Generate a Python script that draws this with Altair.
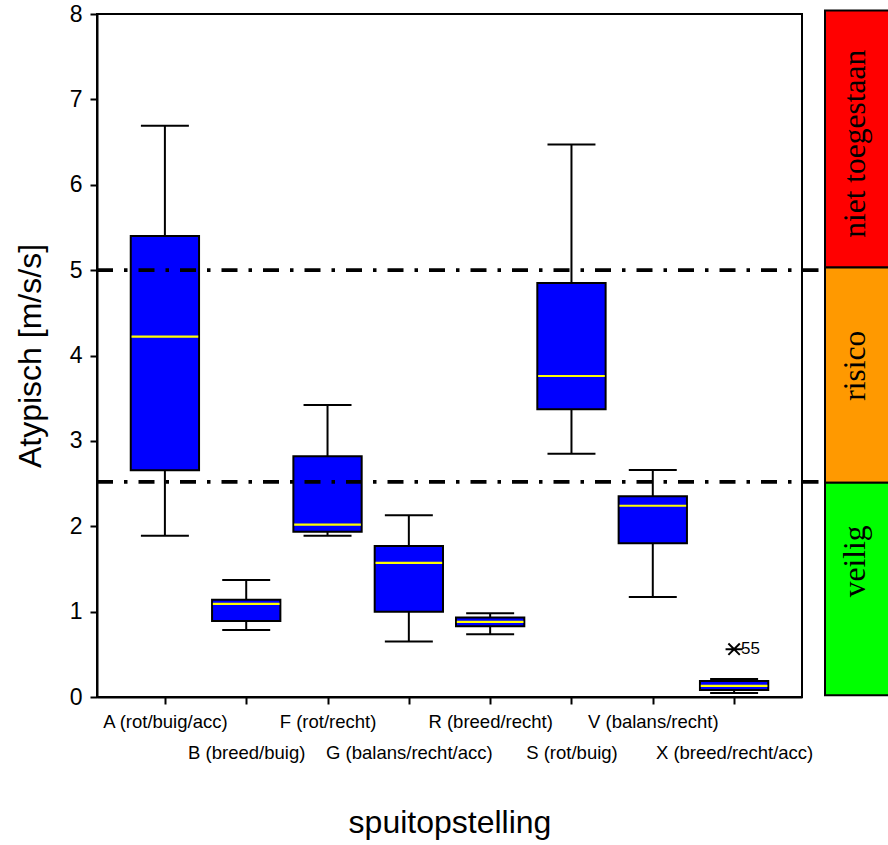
import json
import altair as alt
import pandas as pd

# ---- data ----
cats = ["A (rot/buig/acc)", "B (breed/buig)", "F (rot/recht)", "G (balans/recht/acc)",
        "R (breed/recht)", "S (rot/buig)", "V (balans/recht)", "X (breed/recht/acc)"]
w_lo = [1.89, 0.785, 1.89, 0.65, 0.735, 2.85, 1.17, 0.047]
q1 = [2.655, 0.89, 1.935, 1.00, 0.83, 3.37, 1.80, 0.082]
med = [4.22, 1.09, 2.02, 1.57, 0.88, 3.76, 2.24, 0.13]
q3 = [5.40, 1.14, 2.82, 1.77, 0.93, 4.85, 2.35, 0.187]
w_hi = [6.69, 1.37, 3.42, 2.13, 0.98, 6.47, 2.66, 0.21]

outlier_idx = [7]
outlier_val = [0.56]
outlier_lab = ["55"]

ref_vals = [5.0, 2.52]

bands = ["niet toegestaan", "risico", "veilig"]
band_lo = [5.03, 2.51, 0.02]
band_hi = [8.04, 5.03, 2.51]
band_col = ["#FF0000", "#FF9900", "#00FF00"]
band_lab_y = [6.48, 3.88, 1.59]

df = pd.DataFrame({"i": list(range(len(cats))), "cat": cats, "lo": w_lo, "q1": q1,
                   "med": med, "q3": q3, "hi": w_hi})
df_out = pd.DataFrame({"i": outlier_idx, "v": outlier_val, "lab": outlier_lab})
df_ref = pd.DataFrame({"v": ref_vals})
df_band = pd.DataFrame({"band": bands, "lo": band_lo, "hi": band_hi, "col": band_col,
                        "ly": band_lab_y})

FONT = "Liberation Sans"
names_js = json.dumps(cats)
label_expr = (f"datum.value % 2 == 1 ? ['', {names_js}[datum.value]] : {names_js}[datum.value]")

xscale = alt.Scale(domain=[-0.835, 7.835], nice=False, zero=False)
yscale = alt.Scale(domain=[0, 8], nice=False, zero=False)

xaxis = alt.Axis(values=list(range(8)), labelExpr=label_expr, title="spuitopstelling",
                 labelFontSize=18.5, labelLineHeight=31, labelPadding=8,
                 titleFontSize=32, titlePadding=46, labelAngle=0)
yaxis = alt.Axis(values=list(range(9)), format="d", title="Atypisch [m/s/s]",
                 labelFontSize=23, labelPadding=8, titleFontSize=32, titlePadding=22)


def X(field):
    return alt.X(field, type="quantitative", scale=xscale, axis=xaxis)


def Y(field):
    return alt.Y(field, type="quantitative", scale=yscale, axis=yaxis)


base = alt.Chart(df).transform_calculate(
    xl="datum.i - 0.42", xh="datum.i + 0.42",
    cl="datum.i - 0.295", ch="datum.i + 0.295",
    ml="datum.i - 0.41", mh="datum.i + 0.41")

whisker = base.mark_rule(color="black", strokeWidth=2).encode(x=X("i"), y=Y("lo"), y2="hi")
cap_lo = base.mark_rule(color="black", strokeWidth=2).encode(x=X("cl"), x2="ch", y=Y("lo"))
cap_hi = base.mark_rule(color="black", strokeWidth=2).encode(x=X("cl"), x2="ch", y=Y("hi"))
box = base.mark_rect(color="#0000FF", stroke="black", strokeWidth=2).encode(
    x=X("xl"), x2="xh", y=Y("q1"), y2="q3")
median = base.mark_rule(color="#FFFF00", strokeWidth=2.2).encode(x=X("ml"), x2="mh", y=Y("med"))

refs = alt.Chart(df_ref).mark_rule(color="black", strokeWidth=3.8,
                                   strokeDash=[16, 11, 3.5, 11]).encode(
    x=alt.value(0), x2=alt.value(726), y=Y("v"))

out_pt = alt.Chart(df_out).mark_point(
    shape="M-1,-1L1,1M-1,1L1,-1M-1.5,0L1.5,0", filled=False, color="black",
    strokeWidth=2, size=130, opacity=1).encode(x=X("i"), y=Y("v"))
out_txt = alt.Chart(df_out).mark_text(align="left", baseline="middle", dx=7, fontSize=17,
                                      font=FONT, color="black").encode(
    x=X("i"), y=Y("v"), text="lab")

band_rect = alt.Chart(df_band).mark_rect(stroke="black", strokeWidth=2).encode(
    x=alt.value(728), x2=alt.value(800), y=Y("lo"), y2="hi",
    color=alt.Color("col:N", scale=None))
band_txt = alt.Chart(df_band).mark_text(angle=270, align="center", baseline="middle",
                                        font="Liberation Serif", fontSize=31.5,
                                        color="black").encode(
    x=alt.value(759), y=Y("ly"), text="band")

chart = alt.layer(whisker, cap_lo, cap_hi, box, median, refs, out_pt, out_txt,
                  band_rect, band_txt).properties(
    width=705, height=683,
    autosize=alt.AutoSizeParams(type="none"),
    padding={"left": 97, "top": 14, "right": 86, "bottom": 148},
).configure_view(stroke="black", strokeWidth=2).configure_axis(
    labelFont=FONT, titleFont=FONT, titleFontWeight="normal", labelColor="black",
    titleColor="black", domainColor="black", domainWidth=2, tickColor="black",
    tickWidth=2, tickSize=7, grid=False, labelOverlap=False, labelFlush=False,
    labelBound=False)

chart.save("out.html", embed_options={"renderer": "svg", "actions": False})
